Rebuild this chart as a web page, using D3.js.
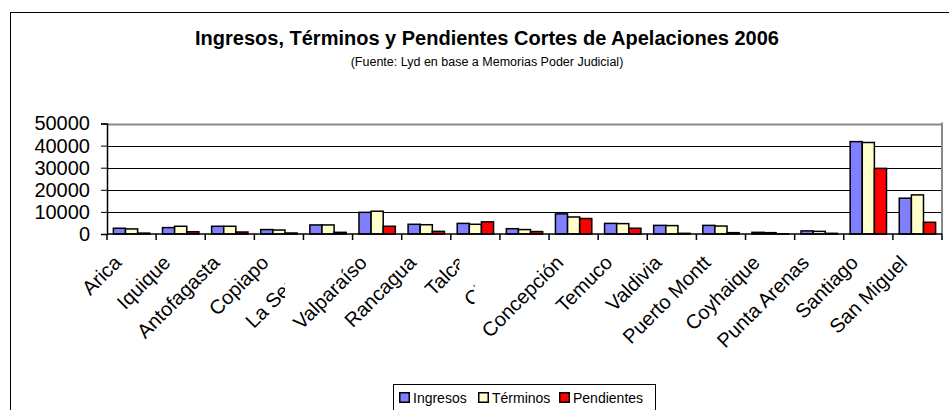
<!DOCTYPE html>
<html>
<head>
<meta charset="utf-8">
<script src="https://cdn.jsdelivr.net/npm/d3@7"></script>
<style>
  body { margin: 0; background: #fff; }
  svg { font-family: "Liberation Sans", Arial, sans-serif; }
</style>
</head>
<body>
<svg id="chart" width="949" height="410"></svg>
<script>
// values (Cortes de Apelaciones 2006)
const cortes = ["Arica", "Iquique", "Antofagasta", "Copiapo", "La Serena", "Valparaíso", "Rancagua",
  "Talca", "Chillán", "Concepción", "Temuco", "Valdivia", "Puerto Montt", "Coyhaique",
  "Punta Arenas", "Santiago", "San Miguel"];
const series = ["Ingresos", "Términos", "Pendientes"];
const ingresos   = [2600, 2900, 3500, 2000, 4100, 9800, 4400, 4800, 2400, 9100, 4800, 3900, 3900, 750, 1400, 41800, 16200];
const terminos   = [2300, 3500, 3500, 1800, 4100, 10300, 4200, 4400, 2000, 7700, 4700, 3800, 3600, 600, 1200, 41400, 17700];
const pendientes = [400, 1000, 900, 450, 750, 3500, 1200, 5500, 1100, 7000, 2600, 300, 600, 100, 300, 29700, 5300];
const yTicks = [0, 10000, 20000, 30000, 40000, 50000];
const colors = ["#8080ff", "#ffffcc", "#ff0000"];

const svg = d3.select("#chart");
const plot = { left: 107, right: 942, top: 123.5, bottom: 234 };

// outer chart frame (runs off the right and bottom)
svg.append("rect")
  .attr("x", 10.5).attr("y", 12.5)
  .attr("width", 960).attr("height", 420)
  .attr("fill", "none").attr("stroke", "#000").attr("stroke-width", 1);

svg.append("text")
  .attr("x", 487).attr("y", 45)
  .attr("text-anchor", "middle")
  .attr("font-size", 20).attr("font-weight", "bold")
  .text("Ingresos, Términos y Pendientes Cortes de Apelaciones 2006");

svg.append("text")
  .attr("x", 487).attr("y", 66)
  .attr("text-anchor", "middle")
  .attr("font-size", 12.5)
  .text("(Fuente: Lyd en base a Memorias Poder Judicial)");

const x = d3.scaleBand().domain(cortes).range([plot.left, plot.right]);
const bw = x.bandwidth();
const x1 = d3.scaleBand().domain(series).range([bw * 0.13, bw * 0.87]);
const y = d3.scaleLinear().domain([0, 50000]).range([plot.bottom, plot.top]);

// gridlines
svg.append("g")
  .selectAll("line")
  .data(yTicks.slice(1))
  .join("line")
    .attr("x1", plot.left).attr("x2", plot.right)
    .attr("y1", d => Math.round(y(d)) + 0.5).attr("y2", d => Math.round(y(d)) + 0.5)
    .attr("stroke", d => d === 50000 ? "#888" : "#000")
    .attr("stroke-width", d => d === 50000 ? 2 : 1);

// right border of plot area
svg.append("line")
  .attr("x1", plot.right).attr("x2", plot.right)
  .attr("y1", plot.top - 1).attr("y2", plot.bottom)
  .attr("stroke", "#888").attr("stroke-width", 2);

// bars
const rows = cortes.map((c, i) => ({ corte: c, vals: [ingresos[i], terminos[i], pendientes[i]] }));
svg.append("g")
  .selectAll("g")
  .data(rows)
  .join("g")
    .attr("transform", d => `translate(${x(d.corte)},0)`)
  .selectAll("rect")
  .data(d => d.vals.map((v, j) => ({ key: series[j], v: v, j: j })))
  .join("rect")
    .attr("x", d => x1(d.key))
    .attr("y", d => y(d.v))
    .attr("width", x1.bandwidth())
    .attr("height", d => y(0) - y(d.v))
    .attr("fill", d => colors[d.j])
    .attr("stroke", "#000")
    .attr("stroke-width", 1.5);

// y axis
const yAxis = svg.append("g")
  .attr("transform", `translate(${plot.left},0)`)
  .call(d3.axisLeft(y).tickValues(yTicks).tickSize(6).tickPadding(11).tickFormat(d3.format("d")));
yAxis.select(".domain").attr("stroke", "#000").attr("stroke-width", 1.5);
yAxis.selectAll(".tick line").attr("stroke", "#000");
yAxis.selectAll("text").attr("font-size", 20).attr("font-family", "Liberation Sans, Arial, sans-serif").attr("fill", "#000");

// x axis line and ticks at category boundaries
svg.append("line")
  .attr("x1", plot.left).attr("x2", plot.right)
  .attr("y1", plot.bottom).attr("y2", plot.bottom)
  .attr("stroke", "#000").attr("stroke-width", 1.5);
const bounds = cortes.map(c => x(c)).concat([plot.right]);
svg.append("g")
  .selectAll("line")
  .data(bounds)
  .join("line")
    .attr("x1", d => d).attr("x2", d => d)
    .attr("y1", plot.bottom).attr("y2", plot.bottom + 6)
    .attr("stroke", "#000").attr("stroke-width", 1.5);

// category labels, rotated; some are cut off where Excel overlapped them
const cut = { "La Serena": 43, "Talca": 16, "Chillán": 50 };
const defs = svg.append("defs");
Object.keys(cut).forEach((c, k) => {
  defs.append("clipPath").attr("id", "cut" + k)
    .append("rect")
      .attr("x", 0).attr("y", 0)
      .attr("width", x(c) + bw / 2 - cut[c]).attr("height", 410);
});
svg.append("g")
  .selectAll("g")
  .data(cortes)
  .join("g")
    .attr("clip-path", d => d in cut ? `url(#cut${Object.keys(cut).indexOf(d)})` : null)
  .append("text")
    .attr("font-size", 20)
    .attr("text-anchor", "end")
    .attr("transform", d => `translate(${x(d) + bw / 2 - 9},${plot.bottom + 30}) rotate(-45)`)
    .text(d => d);

// legend
const lg = svg.append("g");
lg.append("rect")
  .attr("x", 393.5).attr("y", 384.5)
  .attr("width", 262).attr("height", 40)
  .attr("fill", "#fff").attr("stroke", "#000").attr("stroke-width", 1);
const legendX = [399, 478, 559];
series.forEach((s, j) => {
  lg.append("rect")
    .attr("x", legendX[j] + 0.75).attr("y", 392.75)
    .attr("width", 9.5).attr("height", 9.5)
    .attr("fill", colors[j]).attr("stroke", "#000").attr("stroke-width", 1.5);
  lg.append("text")
    .attr("x", legendX[j] + 14).attr("y", 402.5)
    .attr("font-size", 14)
    .text(s);
});
</script>
</body>
</html>
